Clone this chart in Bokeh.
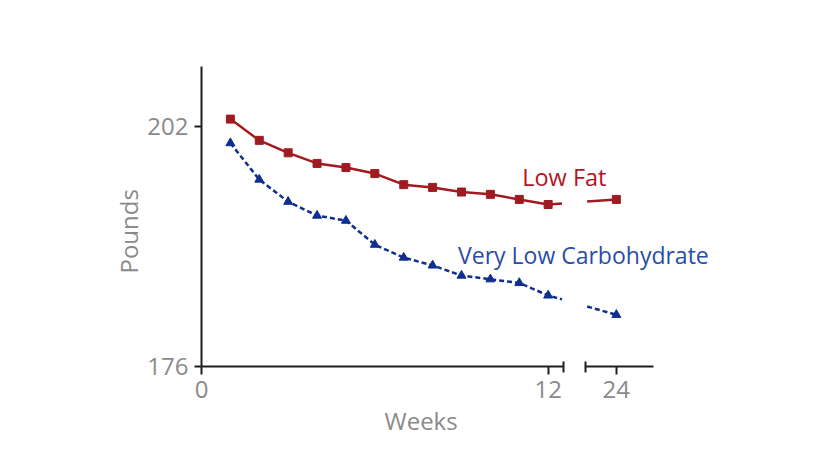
import numpy as np
from bokeh.plotting import figure
from bokeh.models import Range1d, FixedTicker, Label, Title
from bokeh.embed import file_html
from bokeh.resources import INLINE

# ---- data ----
weeks = [1, 2, 3, 4, 5, 6, 7, 8, 9, 10, 11, 12, 24]
low_fat = [202.8, 200.5, 199.15, 198.0, 197.55, 196.9, 195.7, 195.4, 194.9, 194.65, 194.1, 193.55, 194.1]
low_carb = [200.2, 196.25, 193.85, 192.35, 191.8, 189.2, 187.8, 186.95, 185.85, 185.45, 185.05, 183.7, 181.6]
y_ticks = [176, 202]
x_ticks = [0, 12, 24]

# broken-axis scale: weeks 0..12 linear, week 24 drawn at 14.36
def disp(w):
    w = np.asarray(w, dtype=float)
    return np.where(w <= 12, w, 12 + (w - 12) * (2.36 / 12))

GRAY = "#8a8a8a"
RED = "#a01b20"
RED_TXT = "#b3151f"
BLUE = "#0f2f8e"
BLUE_TXT = "#2a4da5"
AX = "#1e1e1e"
FONT = "Open Sans"

p = figure(width=804, height=452, output_backend="svg", toolbar_location=None,
           x_range=Range1d(0, 18.0), y_range=Range1d(176, 208.5),
           min_border_left=201, min_border_right=83, min_border_top=66, min_border_bottom=86)
p.outline_line_color = None
p.grid.visible = False
p.background_fill_color = "white"
p.border_fill_color = "white"

# y axis
ya = p.yaxis[0]
ya.ticker = FixedTicker(ticks=y_ticks)
ya.axis_line_color = AX
ya.axis_line_width = 2
ya.major_tick_line_color = AX
ya.major_tick_line_width = 2
ya.major_tick_out = 7
ya.major_tick_in = 0
ya.minor_tick_line_color = None
ya.major_label_text_font = FONT
ya.major_label_text_font_size = "24px"
ya.major_label_text_color = GRAY
ya.major_label_standoff = 6

# x axis with a break (gap in the axis line, caps as minor ticks)
brk0, brk1, xend = 12.53, 13.29, 15.64
xa = p.xaxis[0]
tick_pos = [float(v) for v in disp(x_ticks)]
xa.ticker = FixedTicker(ticks=tick_pos, minor_ticks=[brk0, brk1])
xa.major_label_overrides = {tp: str(t) for tp, t in zip(tick_pos, x_ticks)}
xa.bounds = (0, xend)
pxw = 28.9
xa.axis_line_dash = "%d %d %d 1000" % (round(brk0 * pxw), round((brk1 - brk0) * pxw),
                                       round((xend - brk1) * pxw))
xa.axis_line_color = AX
xa.axis_line_width = 2
xa.major_tick_line_color = AX
xa.major_tick_line_width = 2
xa.major_tick_out = 8
xa.major_tick_in = 0
xa.minor_tick_line_color = AX
xa.minor_tick_line_width = 2
xa.minor_tick_out = 6
xa.minor_tick_in = 5
xa.major_label_text_font = FONT
xa.major_label_text_font_size = "24px"
xa.major_label_text_color = GRAY
xa.major_label_standoff = 6

# axis titles (placed in the side panels, offset from the frame edge)
p.add_layout(Title(text="Weeks", align="left", offset=183, text_font=FONT,
                   text_font_size="24px", text_font_style="normal",
                   text_color=GRAY, standoff=3), "below")
p.add_layout(Title(text="Pounds", align="left", offset=93, text_font=FONT,
                   text_font_size="24px", text_font_style="normal",
                   text_color=GRAY, standoff=0), "left")

# series with a gap at the axis break
xd = disp(weeks)
g0, g1 = 12.48, 13.35

def draw(vals, color, dash, marker, size):
    v = np.asarray(vals, dtype=float)
    va = np.interp(g0, xd[-2:], v[-2:])
    vb = np.interp(g1, xd[-2:], v[-2:])
    p.line(list(xd[:-1]) + [g0], list(v[:-1]) + [va], line_color=color,
           line_width=2.5, line_dash=dash)
    p.line([g1, xd[-1]], [vb, v[-1]], line_color=color, line_width=2.5, line_dash=dash)
    p.scatter(xd, v, marker=marker, size=size, fill_color=color, line_color=color)

draw(low_fat, RED, "solid", "square", 8)
draw(low_carb, BLUE, "5 3", "triangle", 9)

p.add_layout(Label(x=11.1, y=194.85, text="Low Fat", text_font=FONT,
                   text_font_size="23.5px", text_color=RED_TXT))
p.add_layout(Label(x=8.88, y=186.4, text="Very Low Carbohydrate", text_font=FONT,
                   text_font_size="23px", text_color=BLUE_TXT))

open("out.html", "w").write(file_html(p, INLINE))
